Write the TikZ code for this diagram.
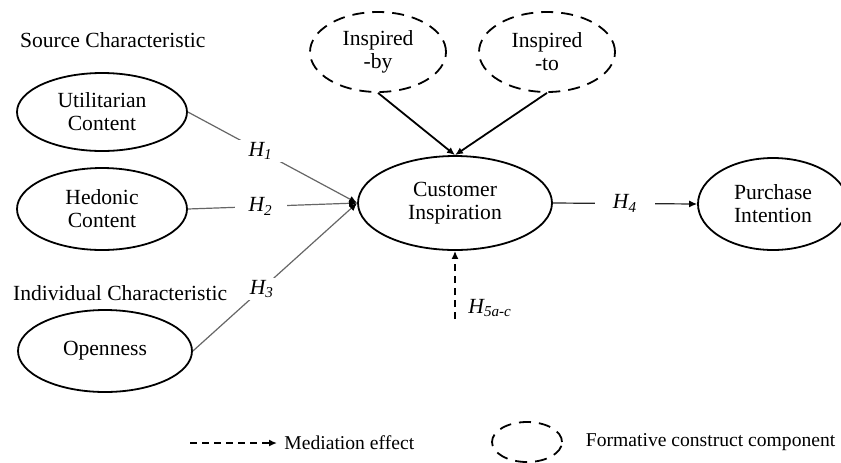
\documentclass[tikz,border=0pt]{standalone}
\usepackage{fontspec}
\setmainfont{Liberation Serif}
\usetikzlibrary{arrows.meta,positioning,shapes.geometric}
\newcommand{\hyp}[1]{\textit{H\textsubscript{#1}}}

\begin{document}
\begin{tikzpicture}[x=0.5pt,y=-0.5pt,
  font=\fontsize{10.8}{11.5}\selectfont,
  construct/.style={ellipse,draw,line width=0.9pt,align=center,inner sep=1pt,minimum width=85pt,minimum height=39pt},
  formative/.style={construct,dash pattern=on 6pt off 4pt,minimum width=68pt,minimum height=40pt},
  tip/.style={-{Latex[length=4pt,width=3.5pt]}},
  effect/.style={-{Latex[length=4pt,width=3.5pt,color=black]},draw=black!60,line width=0.6pt},
  gap/.style={fill=white,inner xsep=7pt,inner ysep=1pt},
  legend/.style={font=\fontsize{9.8}{11}\selectfont}]
\useasboundingbox (0,0) rectangle (841,462);
\node[anchor=west] (src) at (13,40) {Source Characteristic};
\node[anchor=west] (ind) at (6,293) {Individual Characteristic};
\node[construct] (util) at (102,112) {Utilitarian\\Content};
\node[construct,minimum height=41pt] (hed) at (102,209) {Hedonic\\Content};
\node[construct,minimum width=87pt,minimum height=41pt] (open) at (105,351) {Openness};
\node[construct,minimum width=97pt,minimum height=47pt] (ci) at (455,203) {Customer\\Inspiration};
\node[construct,minimum width=75pt,minimum height=46pt] (pi) at (773,204) {Purchase\\Intention};
\node[formative] (iby) at (378,52) {Inspired\\-by};
\node[formative] (ito) at (547,52) {Inspired\\-to};
% hypotheses
\draw[effect] (util.east) -- node[gap,pos=0.43]{\hyp{1}} (ci.west);
\draw[effect] (hed.east) -- node[gap,pos=0.43]{\hyp{2}} (ci.west);
\draw[effect] (open.east) -- node[gap,pos=0.42]{\hyp{3}} (ci.west);
\draw[effect,draw=black!85] (ci.east) -- node[gap,inner xsep=9pt]{\hyp{4}} (pi.west);
\draw[tip,line width=0.9pt] (iby.south) -- (ci.north);
\draw[tip,line width=0.9pt] (ito.south) -- (ci.north);
\coordinate (mod) at (455,319);
\draw[tip,line width=0.8pt,dash pattern=on 3.5pt off 2.5pt] (mod) -- node[pos=0.16,right=3pt]{\hyp{5a-c}} (ci.south);
% legend
\coordinate (m1) at (190,443);
\coordinate (m2) at (277,443);
\draw[tip,line width=0.8pt,dash pattern=on 3.5pt off 2.5pt] (m1) -- (m2) node[right,legend]{Mediation effect};
\node[formative,minimum width=35pt,minimum height=20pt] (leg) at (527,442) {};
\node[right=8pt of leg,legend] (legtxt) {Formative construct component};
\end{tikzpicture}
\end{document}
